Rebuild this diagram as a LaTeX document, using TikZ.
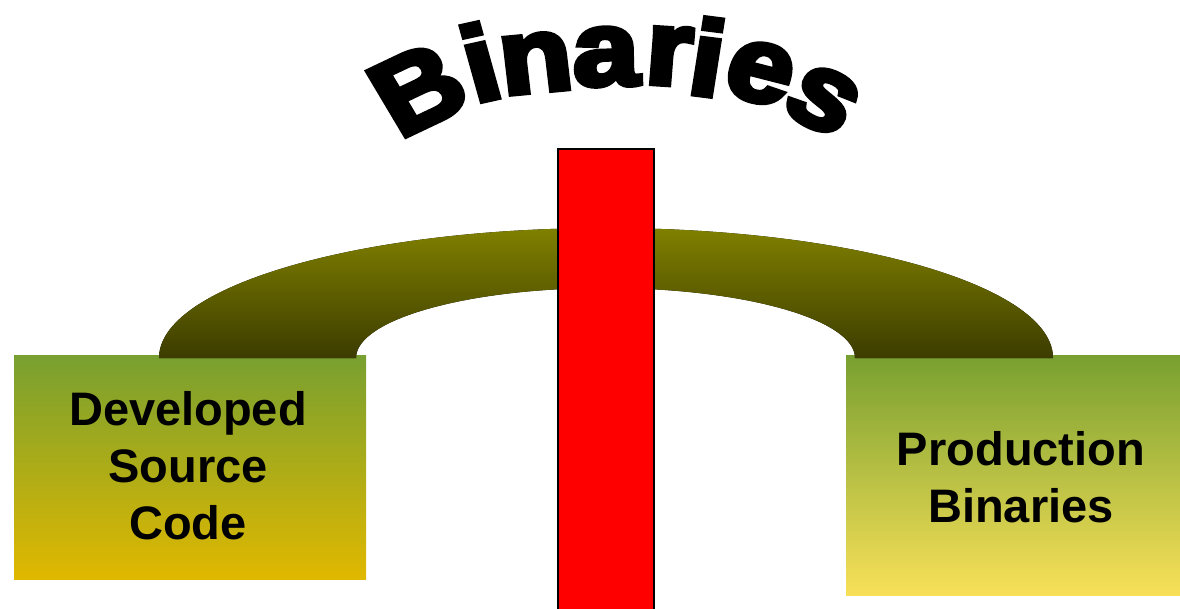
\documentclass[tikz,border=0pt]{standalone}
\usepackage{fontspec}
\setmainfont{Liberation Sans}
\newfontfamily\arcfont[FakeBold=5]{Liberation Sans Bold}
\usetikzlibrary{positioning}
\definecolor{leafgreen}{RGB}{120,160,48}
\definecolor{ochre}{RGB}{224,184,0}
\definecolor{paleyellow}{RGB}{248,224,88}
\definecolor{olivetop}{RGB}{128,128,0}
\definecolor{olivedark}{RGB}{60,60,0}
\begin{document}
\begin{tikzpicture}[x=1pt,y=-1pt]
\tikzstyle{box}=[anchor=north west,inner sep=0pt,top color=leafgreen]
\tikzstyle{lbl}=[font=\fontsize{47}{57}\selectfont\bfseries,align=center,inner sep=0pt]
\tikzstyle{glyph}=[font=\arcfont\fontsize{106}{106}\selectfont,inner sep=0pt,xscale=1.12]
\useasboundingbox (0,0) rectangle (1180,608);
\node[box,bottom color=ochre,minimum width=352,minimum height=224] (srcbox) at (14,355) {};
\node[box,bottom color=paleyellow,minimum width=334,minimum height=240] (binbox) at (846,355) {};
\fill[top color=olivetop,bottom color=olivedark] (159,358) arc[start angle=180,end angle=360,x radius=447,y radius=130] -- (855,358) arc[start angle=0,end angle=-180,x radius=249.5,y radius=70] -- cycle;
\node[draw=black,fill=red,line width=2pt,minimum width=96,minimum height=470,anchor=north,inner sep=0pt] (gate) at (606,148) {};
\node[lbl] (srctxt) at (188,466) {Developed\\Source\\Code};
\node[lbl] (bintxt) at (1021,477) {Production\\Binaries};
\foreach \l/\n/\x/\y/\r in {B/1/418/89/28,i/2/480/62/14,n/3/536/63/6,a/4/606/57/1,r/5/669/56/-4,i/6/708/57/-8,e/7/760/73/-16,s/8/823/100/-30} \node[glyph,rotate=\r] (t\n) at (\x,\y) {\l};
\end{tikzpicture}
\end{document}
